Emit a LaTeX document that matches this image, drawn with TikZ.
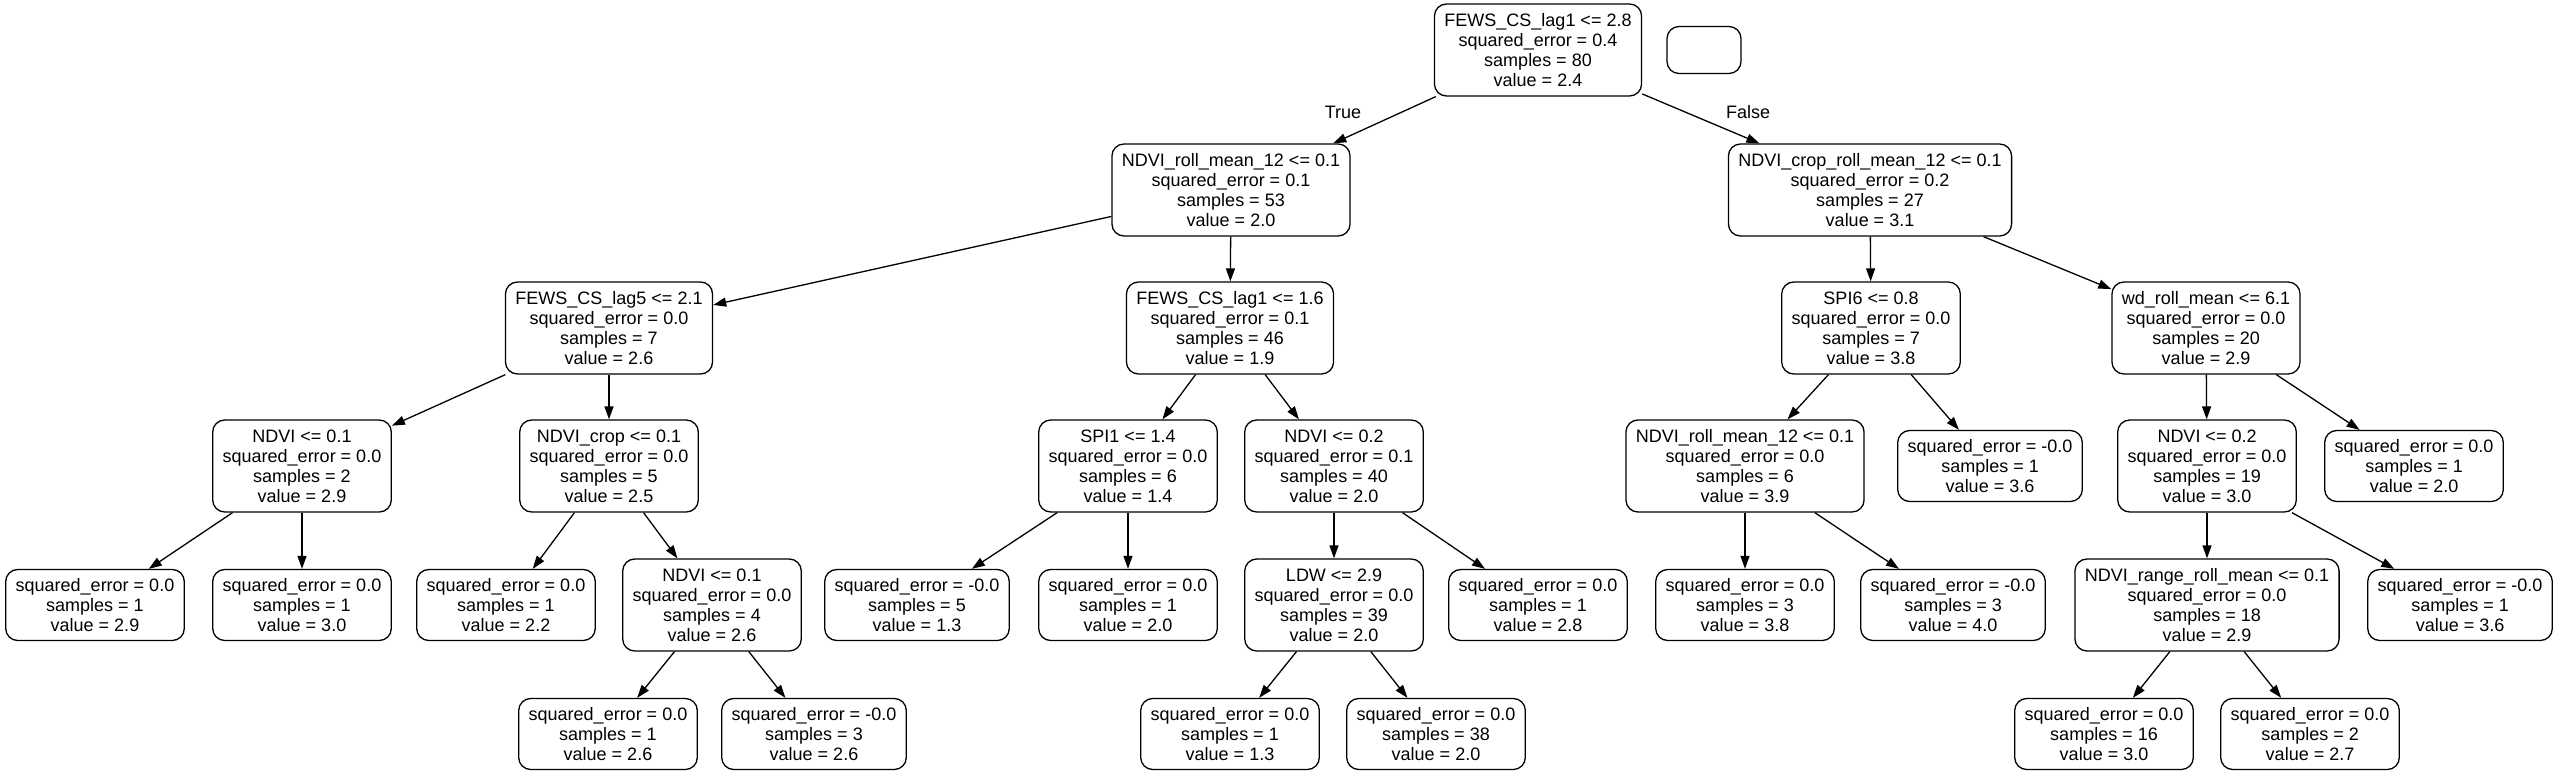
\documentclass[tikz,border=0pt]{standalone}
\usepackage{fontspec}
\newfontfamily\helv{Liberation Sans}
\usetikzlibrary{arrows.meta}

\begin{document}
\begin{tikzpicture}[x=1pt, y=-1pt,
  every node/.style = {font={\helv\fontsize{18pt}{20pt}\selectfont}},
  treenode/.style = {shape=rectangle, rounded corners=12pt,
    draw, line width=1.3pt, align=center, inner xsep=10pt, inner ysep=0pt},
  splitnode/.style = {treenode, minimum height=92pt},
  leafnode/.style = {treenode, minimum height=71pt},
  treeedge/.style = {draw, line width=1.3pt, -{Triangle[length=13pt,width=9pt]}}
  ]
  \useasboundingbox (0,0) rectangle (2555,775);
  % level 0
  \node[splitnode] (n0) at (1538,50) {FEWS\_CS\_lag1 <= 2.8\\squared\_error = 0.4\\samples = 80\\value = 2.4};
  \node[treenode, minimum width=74pt, minimum height=47pt] (blank) at (1704,50) {};
  % level 1
  \node[splitnode] (n1) at (1231,190) {NDVI\_roll\_mean\_12 <= 0.1\\squared\_error = 0.1\\samples = 53\\value = 2.0};
  \node[splitnode] (n20) at (1870,190) {NDVI\_crop\_roll\_mean\_12 <= 0.1\\squared\_error = 0.2\\samples = 27\\value = 3.1};
  % level 2
  \node[splitnode] (n2) at (609,328) {FEWS\_CS\_lag5 <= 2.1\\squared\_error = 0.0\\samples = 7\\value = 2.6};
  \node[splitnode] (n11) at (1230,328) {FEWS\_CS\_lag1 <= 1.6\\squared\_error = 0.1\\samples = 46\\value = 1.9};
  \node[splitnode] (n21) at (1871,328) {SPI6 <= 0.8\\squared\_error = 0.0\\samples = 7\\value = 3.8};
  \node[splitnode] (n26) at (2206,328) {wd\_roll\_mean <= 6.1\\squared\_error = 0.0\\samples = 20\\value = 2.9};
  % level 3
  \node[splitnode] (n3) at (302,466) {NDVI <= 0.1\\squared\_error = 0.0\\samples = 2\\value = 2.9};
  \node[splitnode] (n6) at (609,466) {NDVI\_crop <= 0.1\\squared\_error = 0.0\\samples = 5\\value = 2.5};
  \node[splitnode] (n12) at (1128,466) {SPI1 <= 1.4\\squared\_error = 0.0\\samples = 6\\value = 1.4};
  \node[splitnode] (n15) at (1334,466) {NDVI <= 0.2\\squared\_error = 0.1\\samples = 40\\value = 2.0};
  \node[splitnode] (n22) at (1745,466) {NDVI\_roll\_mean\_12 <= 0.1\\squared\_error = 0.0\\samples = 6\\value = 3.9};
  \node[leafnode] (n25) at (1990,466) {squared\_error = -0.0\\samples = 1\\value = 3.6};
  \node[splitnode] (n27) at (2207,466) {NDVI <= 0.2\\squared\_error = 0.0\\samples = 19\\value = 3.0};
  \node[leafnode] (n32) at (2414,466) {squared\_error = 0.0\\samples = 1\\value = 2.0};
  % level 4
  \node[leafnode] (n4) at (95,605) {squared\_error = 0.0\\samples = 1\\value = 2.9};
  \node[leafnode] (n5) at (302,605) {squared\_error = 0.0\\samples = 1\\value = 3.0};
  \node[leafnode] (n7) at (506,605) {squared\_error = 0.0\\samples = 1\\value = 2.2};
  \node[splitnode] (n8) at (712,605) {NDVI <= 0.1\\squared\_error = 0.0\\samples = 4\\value = 2.6};
  \node[leafnode] (n13) at (917,605) {squared\_error = -0.0\\samples = 5\\value = 1.3};
  \node[leafnode] (n14) at (1128,605) {squared\_error = 0.0\\samples = 1\\value = 2.0};
  \node[splitnode] (n16) at (1334,605) {LDW <= 2.9\\squared\_error = 0.0\\samples = 39\\value = 2.0};
  \node[leafnode] (n19) at (1538,605) {squared\_error = 0.0\\samples = 1\\value = 2.8};
  \node[leafnode] (n23) at (1745,605) {squared\_error = 0.0\\samples = 3\\value = 3.8};
  \node[leafnode] (n24) at (1953,605) {squared\_error = -0.0\\samples = 3\\value = 4.0};
  \node[splitnode] (n28) at (2207,605) {NDVI\_range\_roll\_mean <= 0.1\\squared\_error = 0.0\\samples = 18\\value = 2.9};
  \node[leafnode] (n31) at (2460,605) {squared\_error = -0.0\\samples = 1\\value = 3.6};
  % level 5
  \node[leafnode] (n9) at (608,734) {squared\_error = 0.0\\samples = 1\\value = 2.6};
  \node[leafnode] (n10) at (814,734) {squared\_error = -0.0\\samples = 3\\value = 2.6};
  \node[leafnode] (n17) at (1230,734) {squared\_error = 0.0\\samples = 1\\value = 1.3};
  \node[leafnode] (n18) at (1436,734) {squared\_error = 0.0\\samples = 38\\value = 2.0};
  \node[leafnode] (n29) at (2104,734) {squared\_error = 0.0\\samples = 16\\value = 3.0};
  \node[leafnode] (n30) at (2310,734) {squared\_error = 0.0\\samples = 2\\value = 2.7};
  % edge labels
  \node (lbltrue) at (1343,112) {True};
  \node (lblfalse) at (1748,112) {False};
  % edges
  \draw[treeedge] (n0) -- (n1);
  \draw[treeedge] (n0) -- (n20);
  \draw[treeedge] (n1) -- (n2);
  \draw[treeedge] (n1) -- (n11);
  \draw[treeedge] (n2) -- (n3);
  \draw[treeedge] (n2) -- (n6);
  \draw[treeedge] (n3) -- (n4);
  \draw[treeedge] (n3) -- (n5);
  \draw[treeedge] (n6) -- (n7);
  \draw[treeedge] (n6) -- (n8);
  \draw[treeedge] (n8) -- (n9);
  \draw[treeedge] (n8) -- (n10);
  \draw[treeedge] (n11) -- (n12);
  \draw[treeedge] (n11) -- (n15);
  \draw[treeedge] (n12) -- (n13);
  \draw[treeedge] (n12) -- (n14);
  \draw[treeedge] (n15) -- (n16);
  \draw[treeedge] (n15) -- (n19);
  \draw[treeedge] (n16) -- (n17);
  \draw[treeedge] (n16) -- (n18);
  \draw[treeedge] (n20) -- (n21);
  \draw[treeedge] (n20) -- (n26);
  \draw[treeedge] (n21) -- (n22);
  \draw[treeedge] (n21) -- (n25);
  \draw[treeedge] (n22) -- (n23);
  \draw[treeedge] (n22) -- (n24);
  \draw[treeedge] (n26) -- (n27);
  \draw[treeedge] (n26) -- (n32);
  \draw[treeedge] (n27) -- (n28);
  \draw[treeedge] (n27) -- (n31);
  \draw[treeedge] (n28) -- (n29);
  \draw[treeedge] (n28) -- (n30);
\end{tikzpicture}
\end{document}
